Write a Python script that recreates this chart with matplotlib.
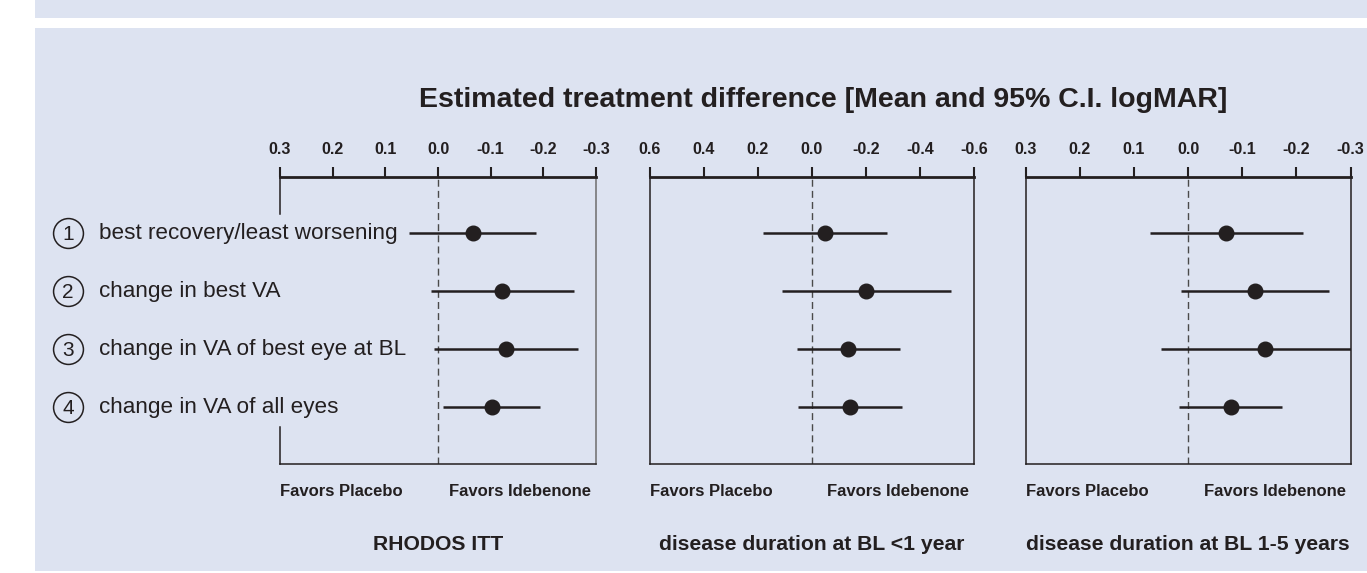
import matplotlib.pyplot as plt
from matplotlib.patches import Rectangle
from matplotlib.transforms import blended_transform_factory

plt.rcParams['font.family'] = ['Liberation Sans', 'DejaVu Sans']

BG = '#dde3f1'
INK = '#231f20'

row_labels = ['best recovery/least worsening', 'change in best VA',
              'change in VA of best eye at BL', 'change in VA of all eyes']
rows = [1, 2, 3, 4]

subtitles = ['RHODOS ITT', 'disease duration at BL <1 year',
             'disease duration at BL 1-5 years']

# mean, lower, upper (logMAR, negative = favors idebenone)
itt_mean = [-0.067, -0.122, -0.129, -0.102]
itt_lo = [0.056, 0.014, 0.007, -0.010]
itt_hi = [-0.187, -0.258, -0.265, -0.193]

lt1_mean = [-0.048, -0.202, -0.134, -0.141]
lt1_lo = [0.182, 0.111, 0.056, 0.051]
lt1_hi = [-0.278, -0.514, -0.327, -0.333]

y15_mean = [-0.071, -0.124, -0.142, -0.079]
y15_lo = [0.071, 0.013, 0.050, 0.017]
y15_hi = [-0.212, -0.260, -0.300, -0.174]

ticks_small = [0.3, 0.2, 0.1, 0.0, -0.1, -0.2, -0.3]
ticks_big = [0.6, 0.4, 0.2, 0.0, -0.2, -0.4, -0.6]

W, H = 1367, 573
fig = plt.figure(figsize=(W / 100, H / 100), dpi=100)
fig.patch.set_facecolor('white')


def fx(px):
    return px / W


def fy(py):
    return 1 - py / H


# background bands
fig.add_artist(Rectangle((fx(35), fy(18)), fx(W - 35), 18 / H, transform=fig.transFigure,
                         facecolor=BG, edgecolor='none', zorder=0))
fig.add_artist(Rectangle((fx(35), fy(571)), fx(W - 35), (571 - 28) / H, transform=fig.transFigure,
                         facecolor=BG, edgecolor='none', zorder=0))

panels = [
    (280, 596, ticks_small, itt_mean, itt_lo, itt_hi),
    (649.5, 974, ticks_big, lt1_mean, lt1_lo, lt1_hi),
    (1025.5, 1350.5, ticks_small, y15_mean, y15_lo, y15_hi),
]
top, bottom = 177, 464

axes = []
for i, (l, r, ticks, mean, lo, hi) in enumerate(panels):
    ax = fig.add_axes([fx(l), fy(bottom), (r - l) / W, (bottom - top) / H])
    ax.set_facecolor('none')
    ax.set_xlim(ticks[0], ticks[-1])
    ax.set_ylim(4.98, 0.034)
    ax.xaxis.tick_top()
    ax.set_xticks(ticks)
    ax.set_xticklabels([f'{t:.1f}' for t in ticks])
    ax.tick_params(axis='x', direction='out', length=7, width=1.5, colors=INK,
                   labelsize=11.5, pad=7.5)
    for lab in ax.get_xticklabels():
        lab.set_fontweight('bold')
    ax.set_yticks([])
    for s in ['left', 'right', 'bottom']:
        ax.spines[s].set_color(INK)
        ax.spines[s].set_linewidth(1.1)
    ax.spines['top'].set_linewidth(2.0)
    ax.spines['top'].set_color(INK)
    ax.axvline(0, color='#4a4a4a', lw=1.0, ls=(0, (5, 3)), zorder=1)
    for y, m, a, b in zip(rows, mean, lo, hi):
        ax.plot([a, b], [y, y], color=INK, lw=1.8, solid_capstyle='butt', zorder=2)
        ax.plot(m, y, 'o', color=INK, ms=10.5, zorder=3)
    ax.text(0.0, -0.095, 'Favors Placebo', transform=ax.transAxes, ha='left', va='center',
            fontsize=12, fontweight='bold', color=INK)
    ax.text(0.985, -0.095, 'Favors Idebenone', transform=ax.transAxes, ha='right', va='center',
            fontsize=12, fontweight='bold', color=INK)
    fig.text(fx((l + r) / 2), fy(544), subtitles[i], ha='center', va='center',
             fontsize=15.2, fontweight='bold', color=INK)
    axes.append(ax)

# panel 1 left spine is broken behind the row labels
ax1 = axes[0]
ax1.spines['left'].set_visible(False)
ax1.spines['right'].set_color('#6d6d6d')
ax1.plot([0.3, 0.3], [0.034, 0.034 + (214 - 177) / 58], color=INK, lw=1.1, clip_on=False)
ax1.plot([0.3, 0.3], [4.98 - (464 - 427) / 58, 4.98], color=INK, lw=1.1, clip_on=False)

trans = blended_transform_factory(fig.transFigure, ax1.transData)
for y, lab in zip(rows, row_labels):
    ax1.plot(fx(68), y, 'o', ms=21.5, mfc='none', mec=INK, mew=1.1, transform=trans, clip_on=False)
    ax1.text(fx(68), y + 0.03, str(y), transform=trans, ha='center', va='center',
             fontsize=15, color=INK)
    ax1.text(fx(99), y, lab, transform=trans, ha='left', va='center',
             fontsize=16.2, color=INK)

fig.text(fx(823), fy(100), 'Estimated treatment difference [Mean and 95% C.I. logMAR]',
         ha='center', va='center', fontsize=20.5, fontweight='bold', color=INK)

fig.savefig('out.png', dpi=100, facecolor='white')
